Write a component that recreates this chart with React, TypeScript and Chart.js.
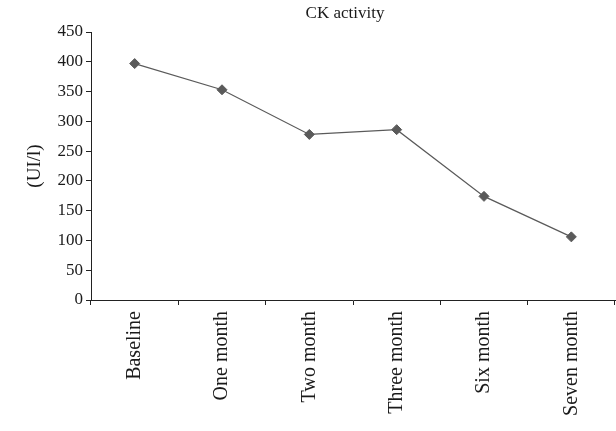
import React, { useEffect, useRef } from "react";
import { Chart, registerables } from "chart.js";

Chart.register(...registerables);

const categories = ["Baseline", "One month", "Two month", "Three month", "Six month", "Seven month"];
const ckValues = [397, 353, 278, 286, 174, 106];
const chartTitle = "CK activity";
const yAxisTitle = "(UI/l)";

const FONT = "'Liberation Serif', 'Times New Roman', serif";

const titlePlugin = {
  id: "customTitle",
  afterDraw(chart: any) {
    const ctx = chart.ctx;
    ctx.save();
    ctx.font = `17px ${FONT}`;
    ctx.fillStyle = "#1a1a1a";
    ctx.textAlign = "center";
    ctx.textBaseline = "middle";
    ctx.fillText(chartTitle, 345, 14);
    ctx.restore();
  },
};

export default function App() {
  const ref = useRef<HTMLCanvasElement | null>(null);
  useEffect(() => {
    if (!ref.current) return;
    const chart = new Chart(ref.current, {
      type: "line",
      data: {
        labels: categories,
        datasets: [
          {
            data: ckValues,
            borderColor: "#5a5a5a",
            backgroundColor: "#5a5a5a",
            borderWidth: 1.2,
            pointStyle: "rectRot",
            pointRadius: 5,
            pointBackgroundColor: "#5a5a5a",
            pointBorderColor: "#5a5a5a",
            pointBorderWidth: 1,
            tension: 0,
            clip: false,
          },
        ],
      },
      options: {
        animation: false,
        responsive: false,
        maintainAspectRatio: false,
        layout: { autoPadding: false, padding: { top: 32, right: 1, left: 24, bottom: 0 } },
        plugins: {
          legend: { display: false },
          title: { display: false },
          tooltip: { enabled: false },
        },
        scales: {
          x: {
            type: "category",
            offset: true,
            grid: {
              offset: true,
              drawOnChartArea: false,
              drawTicks: true,
              tickLength: 5,
              color: "#222",
            },
            border: { color: "#222", width: 1 },
            ticks: {
              minRotation: 90,
              maxRotation: 90,
              autoSkip: false,
              padding: 6,
              color: "#1a1a1a",
              font: { family: FONT, size: 20 },
            },
            afterFit(scale: any) {
              scale.height = 131;
              scale.paddingLeft = 0;
              scale.paddingRight = 0;
            },
          },
          y: {
            min: 0,
            max: 450,
            ticks: {
              stepSize: 50,
              padding: 3,
              color: "#1a1a1a",
              font: { family: FONT, size: 17 },
            },
            grid: {
              drawOnChartArea: false,
              drawTicks: true,
              tickLength: 5,
              color: "#222",
            },
            border: { color: "#222", width: 1 },
            title: {
              display: true,
              text: yAxisTitle,
              color: "#1a1a1a",
              font: { family: FONT, size: 19 },
              padding: { top: 0, bottom: 0 },
            },
            afterFit(scale: any) {
              scale.width = 67;
              scale.paddingTop = 0;
              scale.paddingBottom = 0;
            },
          },
        },
      },
      plugins: [titlePlugin],
    });
    return () => chart.destroy();
  }, []);
  return (
    <div style={{ position: "fixed", left: 0, top: 0, width: 616, height: 431, background: "#fff" }}>
      <canvas ref={ref} width={616} height={431} style={{ width: 616, height: 431 }} />
    </div>
  );
}
